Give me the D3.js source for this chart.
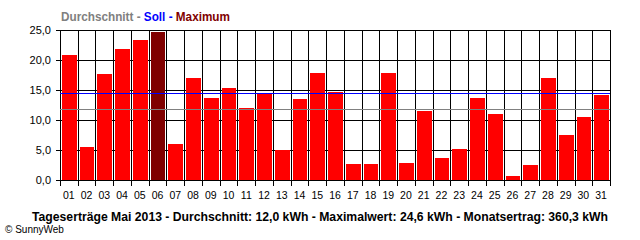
<!DOCTYPE html>
<html><head><meta charset="utf-8">
<script src="https://cdn.jsdelivr.net/npm/d3@7"></script>
<style>html,body{margin:0;padding:0;background:#fff;}svg{display:block;}</style>
</head><body>
<svg id="c" width="640" height="240"></svg>
<script>
const days = ["01","02","03","04","05","06","07","08","09","10","11","12","13","14","15","16","17","18","19","20","21","22","23","24","25","26","27","28","29","30","31"];
const values = [20.8,5.5,17.7,21.8,23.3,24.6,6.0,17.0,13.7,15.3,12.0,14.4,5.0,13.5,17.8,14.7,2.7,2.7,17.8,2.8,11.5,3.7,5.2,13.7,11.0,0.7,2.5,17.0,7.5,10.5,14.2];
const yTicks = [0,5,10,15,20,25];
const sollValue = 14.45;
const avgValue = 11.8;
const legendParts = [["Durchschnitt - ","#808080"],["Soll - ","#0000ff"],["Maximum","#800000"]];
const footerText = "Tageserträge Mai 2013 - Durchschnitt: 12,0 kWh - Maximalwert: 24,6 kWh - Monatsertrag: 360,3 kWh";
const copyText = "© SunnyWeb";

const svg = d3.select("#c");
const L = 60, R = 610, T = 30, B = 180;
const x = d3.scaleBand().domain(days).range([L, R]).padding(0);
const y = d3.scaleLinear().domain([0, 25]).range([B, T]);
const fmt = v => d3.format(".1f")(v).replace(".", ",");
const maxV = d3.max(values);

// horizontal gridlines (behind bars)
svg.append("g").selectAll("line").data(yTicks).join("line")
  .attr("x1", L - 4).attr("x2", R + 0.5)
  .attr("y1", d => Math.round(y(d)) + 0.5).attr("y2", d => Math.round(y(d)) + 0.5)
  .attr("stroke", "#000").attr("stroke-width", 1);

// vertical gridlines with bottom ticks
const bounds = days.map(d => x(d)).concat([R]);
svg.append("g").selectAll("line").data(bounds).join("line")
  .attr("x1", d => Math.round(d) + 0.5).attr("x2", d => Math.round(d) + 0.5)
  .attr("y1", T).attr("y2", B + 6)
  .attr("stroke", "#000").attr("stroke-width", 1);

// bars
svg.append("g").selectAll("rect").data(values).join("rect")
  .attr("x", (d, i) => Math.round(x(days[i])) + 2)
  .attr("width", (d, i) => Math.round(x(days[i]) + x.bandwidth()) - Math.round(x(days[i])) - 3)
  .attr("y", d => Math.round(y(d)))
  .attr("height", d => B - Math.round(y(d)))
  .attr("fill", d => d === maxV ? "#800000" : "#ff0000");

// Soll and average lines
svg.append("line").attr("x1", L).attr("x2", R).attr("y1", Math.round(y(sollValue)) + 0.5).attr("y2", Math.round(y(sollValue)) + 0.5)
  .attr("stroke", "#0000ff").attr("stroke-width", 1);
svg.append("line").attr("x1", L).attr("x2", R).attr("y1", Math.round(y(avgValue)) + 0.5).attr("y2", Math.round(y(avgValue)) + 0.5)
  .attr("stroke", "#808080").attr("stroke-width", 1);

// zero line redraw on top
svg.append("line").attr("x1", L - 4).attr("x2", R + 0.5).attr("y1", B + 0.5).attr("y2", B + 0.5).attr("stroke", "#000");

const font = "'Liberation Sans', Arial, sans-serif";
// y labels
svg.append("g").selectAll("text").data(yTicks).join("text")
  .attr("x", 51).attr("y", d => y(d) + 4)
  .attr("text-anchor", "end").attr("font-family", font).attr("font-size", 11).attr("fill", "#000")
  .text(d => fmt(d));

// x labels
svg.append("g").selectAll("text").data(days).join("text")
  .attr("x", d => x(d) + x.bandwidth() / 2).attr("y", 199)
  .attr("text-anchor", "middle").attr("font-family", font).attr("font-size", 10.5).attr("fill", "#000")
  .text(d => d);

// legend title
const lt = svg.append("text").attr("x", 61).attr("y", 20.5).attr("font-family", font).attr("font-size", 12).attr("font-weight", "bold")
  .attr("textLength", 169).attr("lengthAdjust", "spacingAndGlyphs");
legendParts.forEach(p => lt.append("tspan").attr("fill", p[1]).attr("xml:space", "preserve").text(p[0]));

// footer
svg.append("text").attr("x", 32).attr("y", 220.5).attr("font-family", font).attr("font-size", 12).attr("font-weight", "bold")
  .attr("fill", "#000").attr("textLength", 576).attr("lengthAdjust", "spacingAndGlyphs").text(footerText);
svg.append("text").attr("x", 5).attr("y", 232.5).attr("font-family", font).attr("font-size", 10)
  .attr("fill", "#000").text(copyText);
</script>
</body></html>
